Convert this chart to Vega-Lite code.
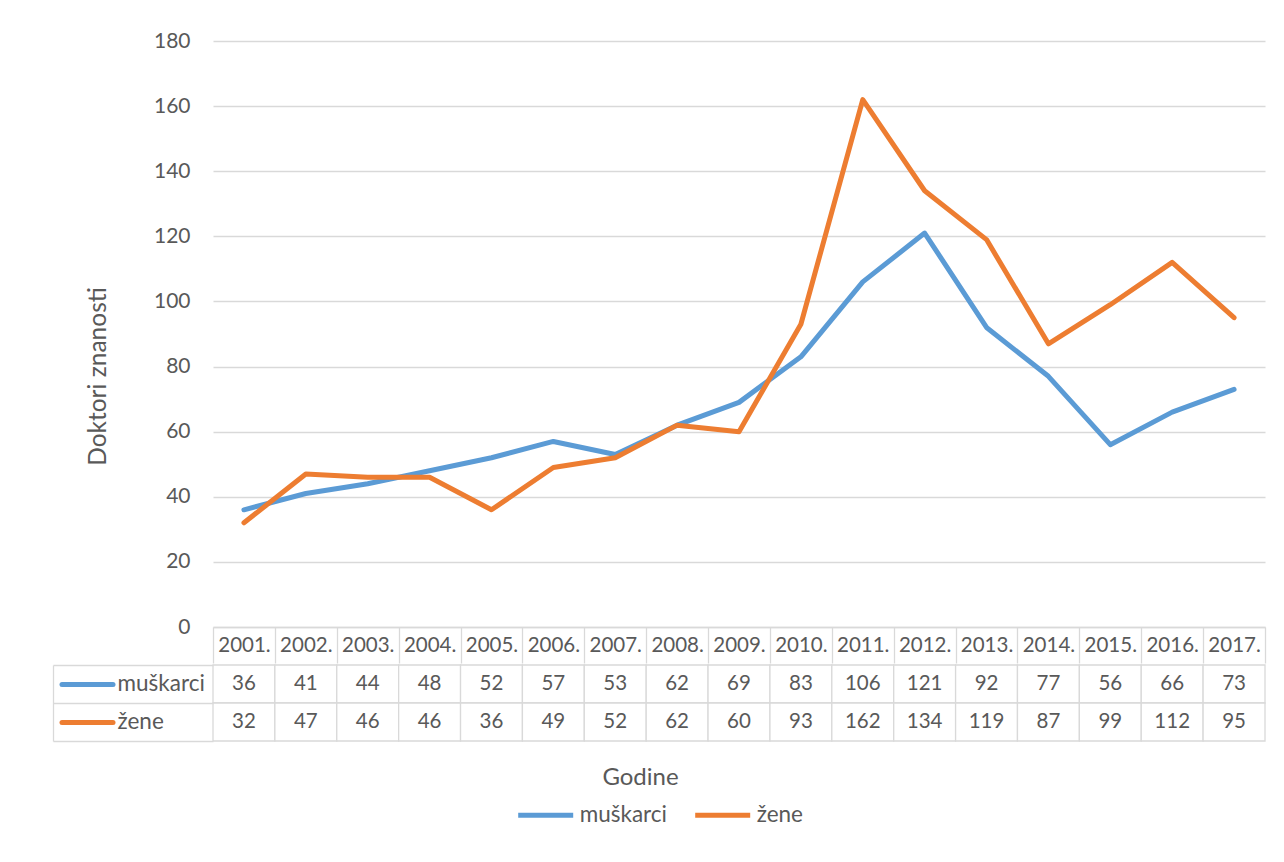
{
  "$schema": "https://vega.github.io/schema/vega-lite/v6.json",
  "padding": {"left": 52, "top": 30, "right": 5, "bottom": 5},
  "background": "white",
  "config": {
    "font": "Lato",
    "view": {"stroke": null},
    "axis": {"labelColor": "#595959", "titleColor": "#595959", "titleFontWeight": "normal"}
  },
  "datasets": {
    "d": [
      {"year": "2001.", "series": "muškarci", "value": 36},
      {"year": "2002.", "series": "muškarci", "value": 41},
      {"year": "2003.", "series": "muškarci", "value": 44},
      {"year": "2004.", "series": "muškarci", "value": 48},
      {"year": "2005.", "series": "muškarci", "value": 52},
      {"year": "2006.", "series": "muškarci", "value": 57},
      {"year": "2007.", "series": "muškarci", "value": 53},
      {"year": "2008.", "series": "muškarci", "value": 62},
      {"year": "2009.", "series": "muškarci", "value": 69},
      {"year": "2010.", "series": "muškarci", "value": 83},
      {"year": "2011.", "series": "muškarci", "value": 106},
      {"year": "2012.", "series": "muškarci", "value": 121},
      {"year": "2013.", "series": "muškarci", "value": 92},
      {"year": "2014.", "series": "muškarci", "value": 77},
      {"year": "2015.", "series": "muškarci", "value": 56},
      {"year": "2016.", "series": "muškarci", "value": 66},
      {"year": "2017.", "series": "muškarci", "value": 73},
      {"year": "2001.", "series": "žene", "value": 32},
      {"year": "2002.", "series": "žene", "value": 47},
      {"year": "2003.", "series": "žene", "value": 46},
      {"year": "2004.", "series": "žene", "value": 46},
      {"year": "2005.", "series": "žene", "value": 36},
      {"year": "2006.", "series": "žene", "value": 49},
      {"year": "2007.", "series": "žene", "value": 52},
      {"year": "2008.", "series": "žene", "value": 62},
      {"year": "2009.", "series": "žene", "value": 60},
      {"year": "2010.", "series": "žene", "value": 93},
      {"year": "2011.", "series": "žene", "value": 162},
      {"year": "2012.", "series": "žene", "value": 134},
      {"year": "2013.", "series": "žene", "value": 119},
      {"year": "2014.", "series": "žene", "value": 87},
      {"year": "2015.", "series": "žene", "value": 99},
      {"year": "2016.", "series": "žene", "value": 112},
      {"year": "2017.", "series": "žene", "value": 95}
    ]
  },
  "spacing": 0,
  "vconcat": [
    {
      "width": 1052,
      "height": 586,
      "data": {"name": "d"},
      "mark": {"type": "line", "strokeWidth": 5, "strokeCap": "round", "strokeJoin": "round"},
      "encoding": {
        "x": {
          "field": "year", "type": "ordinal", "bandPosition": 0.5,
          "scale": {"type": "band", "paddingInner": 0, "paddingOuter": 0},
          "axis": {
            "title": null, "domainColor": "#d9d9d9", "domainWidth": 1.3,
            "tickColor": "#d9d9d9", "tickWidth": 1.3, "tickBand": "extent", "tickSize": 36,
            "labelAngle": 0, "labelFontSize": 20.5, "labelBaseline": "middle", "labelPadding": -18
          }
        },
        "y": {
          "field": "value", "type": "quantitative",
          "scale": {"domain": [0, 180], "nice": false},
          "axis": {
            "values": [0, 20, 40, 60, 80, 100, 120, 140, 160, 180],
            "domain": false, "ticks": false, "gridColor": "#d9d9d9", "gridWidth": 1.3,
            "labelFontSize": 21, "labelPadding": 23,
            "title": "Doktori znanosti", "titleFontSize": 24.5, "titlePadding": 43,
            "titleY": 335
          }
        },
        "color": {
          "field": "series", "type": "nominal",
          "scale": {"domain": ["muškarci", "žene"], "range": ["#5B9BD5", "#ED7D31"]},
          "legend": {
            "title": null, "orient": "none", "legendX": 302.7, "legendY": 744,
            "direction": "horizontal", "symbolType": "stroke", "symbolStrokeWidth": 5,
            "symbolSize": 3025, "labelFontSize": 22.5, "labelColor": "#595959",
            "labelOffset": 4, "columnPadding": 17
          }
        }
      }
    },
    {
      "width": 1052,
      "height": 76,
      "data": {"name": "d"},
      "layer": [
        {
          "mark": {"type": "rect", "fill": "white", "stroke": "#d9d9d9", "strokeWidth": 1.3},
          "encoding": {
            "x": {
              "field": "year", "type": "ordinal",
              "scale": {"type": "band", "paddingInner": 0, "paddingOuter": 0},
              "axis": {"orient": "bottom", "labels": false, "ticks": false, "domain": false,
                       "title": "Godine", "titleFontSize": 24, "titlePadding": 24,
                       "titleX": 427, "titleAlign": "center"}
            },
            "y": {
              "field": "series", "type": "nominal",
              "scale": {"type": "band", "domain": ["muškarci", "žene"], "paddingInner": 0, "paddingOuter": 0},
              "axis": {"title": null, "orient": "left", "offset": 160, "labels": false,
                       "domainColor": "#d9d9d9", "domainWidth": 1.3,
                       "tickColor": "#d9d9d9", "tickWidth": 1.3, "tickSize": -160, "tickBand": "extent"}
            }
          }
        },
        {
          "mark": {"type": "text", "fontSize": 20.5, "color": "#595959"},
          "encoding": {
            "x": {
              "field": "year", "type": "ordinal",
              "scale": {"type": "band", "paddingInner": 0, "paddingOuter": 0},
              "axis": {"orient": "bottom", "labels": false, "ticks": false, "domain": false,
                       "title": "Godine", "titleFontSize": 24, "titlePadding": 24,
                       "titleX": 427, "titleAlign": "center"}
            },
            "y": {
              "field": "series", "type": "nominal",
              "scale": {"type": "band", "domain": ["muškarci", "žene"], "paddingInner": 0, "paddingOuter": 0},
              "axis": {"title": null, "orient": "left", "offset": 100.5, "domain": false,
                       "tickSize": 51, "tickWidth": 5, "tickCap": "round",
                       "tickColor": {"condition": {"test": "datum.value === 'muškarci'", "value": "#5B9BD5"}, "value": "#ED7D31"},
                       "labelAlign": "left", "labelPadding": -55.5, "labelFontSize": 22.5,
                       "labelColor": "#595959", "labelBaseline": "middle"}
            },
            "text": {"field": "value", "type": "quantitative"}
          }
        }
      ],
      "resolve": {"axis": {"y": "independent"}}
    }
  ]
}
